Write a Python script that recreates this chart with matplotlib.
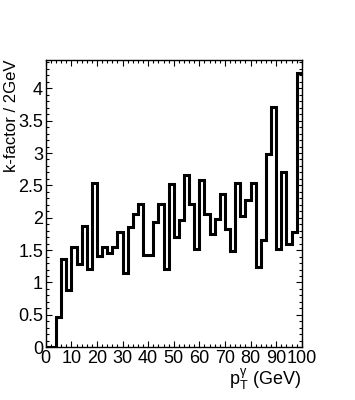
import matplotlib
matplotlib.use("Agg")
import matplotlib.pyplot as plt
import numpy as np
from matplotlib.ticker import MultipleLocator

plt.rcParams["font.family"] = ["Liberation Sans", "DejaVu Sans"]
plt.rcParams["mathtext.fontset"] = "custom"
plt.rcParams["mathtext.rm"] = "Liberation Sans"
plt.rcParams["mathtext.it"] = "Liberation Sans"

bin_edges = np.arange(0, 102, 2)
kfactor = [0.0, 0.0, 0.47, 1.36, 0.885, 1.555, 1.29, 1.874, 1.205, 2.54,
           1.416, 1.545, 1.45, 1.545, 1.78, 1.14, 1.853, 2.054, 2.21, 1.426,
           1.426, 1.936, 2.21, 1.215, 2.52, 1.71, 1.97, 2.66, 2.22, 1.52,
           2.58, 2.06, 1.745, 1.98, 2.37, 1.83, 1.48, 2.53, 2.02, 2.275,
           2.53, 1.246, 1.66, 2.986, 3.717, 1.524, 2.70, 1.596, 1.776, 4.23]
x_ticks = [0, 10, 20, 30, 40, 50, 60, 70, 80, 90, 100]
y_ticks = [0, 0.5, 1, 1.5, 2, 2.5, 3, 3.5, 4]

fig = plt.figure(figsize=(3.55, 4.0), dpi=100, facecolor="white")
ax = fig.add_axes([0.129, 0.132, 0.721, 0.718])

ax.stairs(kfactor, bin_edges, color="black", lw=2.2, baseline=None)
ax.set_xlim(0, 100)
ax.set_ylim(0, 4.437)

ax.set_xticks(x_ticks)
ax.set_yticks(y_ticks)
ax.set_xticklabels([str(v) for v in x_ticks])
ax.set_yticklabels(["0", "0.5", "1", "1.5", "2", "2.5", "3", "3.5", "4"])
ax.xaxis.set_minor_locator(MultipleLocator(2))
ax.yaxis.set_minor_locator(MultipleLocator(0.1))
ax.tick_params(which="both", direction="in", top=True, right=True, labelsize=13, width=0.8, colors="black")
ax.tick_params(which="major", length=4, pad=2)
ax.tick_params(which="minor", length=2)
for spine in ax.spines.values():
    spine.set_linewidth(1.0)

ax.set_xlabel(r"p$_{\mathrm{T}}^{\gamma}$ (GeV)", fontsize=13, loc="right", labelpad=0)
fig.text(11.5 / 355, 1 - 59 / 400, "k-factor / 2GeV", fontsize=12, rotation=90, ha="center", va="top")

fig.savefig("out.png", dpi=100, facecolor="white")
plt.close(fig)
